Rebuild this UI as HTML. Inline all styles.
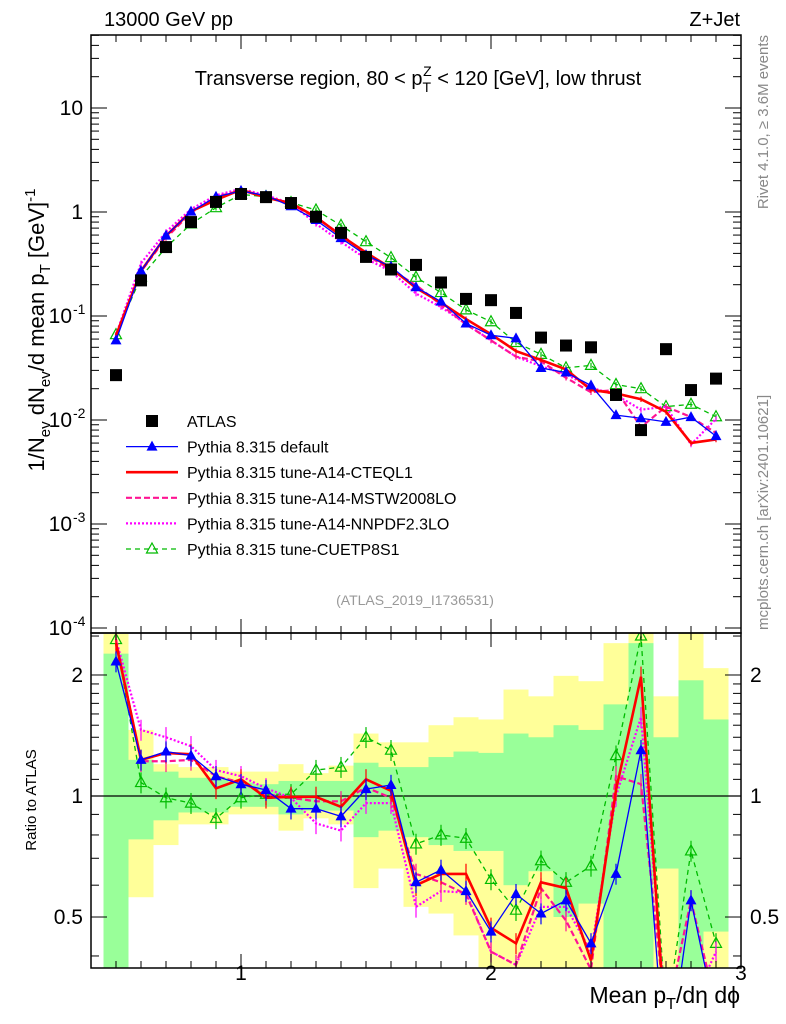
<!DOCTYPE html>
<html><head><meta charset="utf-8"><style>
body{margin:0;background:#fff;overflow:hidden;}
svg{display:block;font-family:"Liberation Sans","DejaVu Sans",sans-serif;}
</style></head><body>
<svg id="c" width="786" height="1024" viewBox="0 0 786 1024"></svg>
<script>
const categories=[0.5,0.6,0.7,0.8,0.9,1.0,1.1,1.2,1.3,1.4,1.5,1.6,1.7,1.8,1.9,2.0,2.1,2.2,2.3,2.4,2.5,2.6,2.7,2.8,2.9];
const atlasValues=[0.027,0.22,0.46,0.80,1.25,1.49,1.39,1.22,0.90,0.63,0.37,0.28,0.31,0.21,0.146,0.142,0.107,0.062,0.052,0.050,0.0174,0.0080,0.048,0.0194,0.025];
const ratioDefault=[2.16,1.23,1.29,1.26,1.12,1.07,1.035,0.93,0.93,0.89,1.04,1.065,0.61,0.655,0.58,0.46,0.57,0.51,0.55,0.43,0.64,1.30,0.2,0.55,0.28];
const ratioCTEQ=[2.4,1.23,1.28,1.27,1.045,1.10,0.99,0.995,0.995,0.94,1.10,1.03,0.60,0.64,0.64,0.47,0.43,0.61,0.59,0.39,1.035,1.98,0.25,0.31,0.26];
const ratioMSTW=[2.45,1.22,1.22,1.23,1.12,1.08,1.01,0.99,0.97,0.97,1.05,0.99,0.64,0.61,0.57,0.41,0.38,0.59,0.49,0.37,1.12,1.07,0.28,0.55,0.3];
const ratioNNPDF=[2.45,1.46,1.40,1.33,1.16,1.12,1.045,0.99,0.855,0.82,0.96,0.96,0.53,0.58,0.575,0.41,0.38,0.53,0.53,0.41,1.0,1.57,0.28,0.3,0.41];
const ratioCUETP=[2.45,1.08,0.99,0.96,0.88,0.99,1.01,1.01,1.16,1.18,1.40,1.30,0.76,0.80,0.785,0.62,0.52,0.69,0.61,0.67,1.26,2.5,0.28,0.73,0.43];
const bandInnerHi=[2.26,1.23,1.15,1.11,1.11,1.08,1.07,1.09,1.09,1.09,1.21,1.18,1.18,1.25,1.29,1.28,1.43,1.40,1.50,1.46,1.69,2.4,1.40,1.94,1.55];
const bandInnerLo=[0.2,0.78,0.87,0.91,0.91,0.94,0.94,0.90,0.92,0.92,0.79,0.82,0.79,0.755,0.73,0.73,0.60,0.65,0.50,0.54,0.2,0.2,0.66,0.2,0.46];
const bandOuterHi=[2.53,1.46,1.20,1.18,1.18,1.15,1.15,1.20,1.14,1.19,1.43,1.36,1.36,1.50,1.57,1.55,1.84,1.77,1.99,1.93,2.4,2.6,1.77,2.6,2.08];
const bandOuterLo=[0.2,0.56,0.755,0.85,0.85,0.90,0.90,0.82,0.88,0.85,0.59,0.66,0.53,0.51,0.45,0.2,0.2,0.2,0.2,0.2,0.2,0.2,0.2,0.2,0.2];
const xTicks=[1,2,3];
const mainYTicks=[["10",1],["1",0],["10",-1],["10",-2],["10",-3],["10",-4]];
const ratioTicks=[["2",2],["1",1],["0.5",0.5]];

const NS="http://www.w3.org/2000/svg";
const svg=document.getElementById('c');
const X0=91,X1=741,MT=35,MB=633,RT=633,RB=968;
const xs=v=>X0+(v-0.4)/2.6*(X1-X0);
const ym=v=>212-104*Math.log10(v);
const yr=v=>796-402*Math.log10(v);
function el(t,a,p){const e=document.createElementNS(NS,t);for(const k in a)e.setAttribute(k,a[k]);(p||svg).appendChild(e);return e;}
function txt(s,x,y,o,p){const e=el('text',Object.assign({x:x,y:y,'font-size':19,fill:'#000'},o||{}),p);e.textContent=s;return e;}

const defs=el('defs',{});
const cm=el('clipPath',{id:'cm'},defs);el('rect',{x:X0,y:MT,width:X1-X0,height:MB-MT},cm);
const cr=el('clipPath',{id:'cr'},defs);el('rect',{x:X0,y:RT,width:X1-X0,height:RB-RT},cr);

const gBand=el('g',{'clip-path':'url(#cr)'});


categories.forEach((c,i)=>{
  const a=xs(c-0.05),b=xs(c+0.05);
  const o=el('rect',{x:a,y:yr(bandOuterHi[i]),width:b-a,height:yr(bandOuterLo[i])-yr(bandOuterHi[i]),fill:'#ffff99'},gBand);
  
  
  const n=el('rect',{x:a,y:yr(bandInnerHi[i]),width:b-a,height:yr(bandInnerLo[i])-yr(bandInnerHi[i]),fill:'#99ff99'},gBand);
  
  
});
el('line',{x1:X0,x2:X1,y1:yr(1),y2:yr(1),stroke:'#000','stroke-width':1.3});

const series=[
 {name:'default',r:ratioDefault,color:'#0000ff',w:1.3,dash:'',marker:'tri'},
 {name:'cteql1',r:ratioCTEQ,color:'#ff0000',w:2.6,dash:'',marker:''},
 {name:'mstw2008lo',r:ratioMSTW,color:'#ff1493',w:2.2,dash:'6,3',marker:''},
 {name:'nnpdf23lo',r:ratioNNPDF,color:'#ff00ff',w:2.2,dash:'2,2',marker:''},
 {name:'cuetp8s1',r:ratioCUETP,color:'#00bb00',w:1.3,dash:'5,4',marker:'otri'}
];
function drawMarker(g,type,x,y,color){
  if(type==='tri'){const m=el('path',{d:`M${x},${y-6}L${x+5.5},${y+4}L${x-5.5},${y+4}Z`,fill:color},g);}
  if(type==='otri'){const m=el('path',{d:`M${x},${y-6}L${x+5.5},${y+4}L${x-5.5},${y+4}Z`,fill:'none',stroke:color,'stroke-width':1.2},g);}
}
[[ym,'cm','main'],[yr,'cr','ratio']].forEach(([yf,clip,pn])=>{
  series.slice().reverse().forEach(s=>{
    const g=el('g',{'clip-path':`url(#${clip})`});
    
    
    const vals=s.r.map((r,i)=>pn==='main'?r*atlasValues[i]:r);
    const pts=vals.map((v,i)=>xs(categories[i])+','+yf(v)).join(' ');
    const l=el('polyline',{points:pts,fill:'none',stroke:s.color,'stroke-width':s.w,'stroke-dasharray':s.dash},g);
    
    
    vals.forEach((v,i)=>{
      const x=xs(categories[i]),y=yf(v),e=0.06;
      el('line',{x1:x,x2:x,y1:yf(v*(1+e)),y2:yf(v*(1-e)),stroke:s.color,'stroke-width':1.2},g);
      drawMarker(g,s.marker,x,y,s.color);
    });
  });
});
const ga=el('g',{'clip-path':'url(#cm)'});


atlasValues.forEach((v,i)=>{
  const r=el('rect',{x:xs(categories[i])-6,y:ym(v)-6,width:12,height:12,fill:'#000'},ga);
  
  
});

el('rect',{x:X0,y:MT,width:X1-X0,height:MB-MT,fill:'none',stroke:'#000','stroke-width':1.5});
el('rect',{x:X0,y:RT,width:X1-X0,height:RB-RT,fill:'none',stroke:'#000','stroke-width':1.5});
for(let k=4;k<=30;k++){const v=k/10,x=xs(v),maj=(k%10===0);const L=maj?14:7;
  [[MT,1],[MB,-1],[RT,1],[RB,-1]].forEach(([y0,d])=>el('line',{x1:x,x2:x,y1:y0,y2:y0+d*L,stroke:'#000','stroke-width':1}));}
xTicks.forEach(v=>txt(String(v),xs(v),980,{'text-anchor':'middle','font-size':21}));
for(let d=-4;d<=1;d++){for(let m=1;m<=9;m++){const v=m*Math.pow(10,d),y=ym(v);if(y<MT||y>MB)continue;const L=m===1?16:8;
  el('line',{x1:X0,x2:X0+L,y1:y,y2:y,stroke:'#000'});el('line',{x1:X1,x2:X1-L,y1:y,y2:y,stroke:'#000'});}}
mainYTicks.forEach(([b,e])=>{const y=ym(Math.pow(10,e))+7;
  if(e===1||e===0){txt(b,83,y,{'text-anchor':'end','font-size':21});}
  else{txt(b,72,y,{'text-anchor':'end','font-size':21});txt(String(e),73,y-9,{'font-size':14});}
});
[0.4,0.5,0.6,0.7,0.8,0.9,1,1.1,1.2,1.3,1.4,1.5,1.6,1.7,1.8,1.9,2,2.5].forEach(v=>{const y=yr(v);if(y<RT||y>RB)return;const L=(v===0.5||v===1||v===2)?16:8;
  el('line',{x1:X0,x2:X0+L,y1:y,y2:y,stroke:'#000'});el('line',{x1:X1,x2:X1-L,y1:y,y2:y,stroke:'#000'});});
ratioTicks.forEach(([s,v])=>{txt(s,83,yr(v)+7,{'text-anchor':'end','font-size':21});txt(s,750,yr(v)+7,{'font-size':21});});

txt('13000 GeV pp',104,26,{'font-size':20});
txt('Z+Jet',740,26,{'font-size':20,'text-anchor':'end'});
const tt=txt('',418,85,{'font-size':20,'text-anchor':'middle'});
tt.innerHTML='Transverse region, 80 &lt; p<tspan font-size="14" dy="7">T</tspan><tspan font-size="14" dx="-8" dy="-16">Z</tspan><tspan dy="9"> &lt; 120 [GeV], low thrust</tspan>';
const yl=txt('',0,0,{'font-size':22,transform:'translate(44,330) rotate(-90)','text-anchor':'middle'});
yl.innerHTML='1/N<tspan font-size="15" dy="6">ev</tspan><tspan dy="-6"> dN</tspan><tspan font-size="15" dy="6">ev</tspan><tspan dy="-6">/d mean p</tspan><tspan font-size="15" dy="6">T</tspan><tspan dy="-6"> [GeV]</tspan><tspan font-size="15" dy="-9">-1</tspan>';
const rl=txt('Ratio to ATLAS',0,0,{'font-size':15,transform:'translate(36,800) rotate(-90)','text-anchor':'middle'});
const xl=txt('',740,1003,{'font-size':23,'text-anchor':'end'});
xl.innerHTML='Mean p<tspan font-size="16" dy="6">T</tspan><tspan dy="-6">/dη dϕ</tspan>';
txt('Rivet 4.1.0, ≥ 3.6M events',0,0,{'font-size':15,fill:'#888',transform:'translate(768,35) rotate(-90)','text-anchor':'end'});
txt('mcplots.cern.ch [arXiv:2401.10621]',0,0,{'font-size':15,fill:'#888',transform:'translate(768,630) rotate(-90)','text-anchor':'start'});
txt('(ATLAS_2019_I1736531)',415,605,{'font-size':14,fill:'#999','text-anchor':'middle'});

const lg=el('g',{});


const le=[['ATLAS',null],['Pythia 8.315 default',series[0]],['Pythia 8.315 tune-A14-CTEQL1',series[1]],['Pythia 8.315 tune-A14-MSTW2008LO',series[2]],['Pythia 8.315 tune-A14-NNPDF2.3LO',series[3]],['Pythia 8.315 tune-CUETP8S1',series[4]]];
le.forEach(([lab,s],i)=>{const y=421+i*25.6;
  const g=el('g',{},lg);
  
  
  if(!s){el('rect',{x:146,y:y-6,width:12,height:12,fill:'#000'},g);}
  else{el('line',{x1:126,x2:178,y1:y,y2:y,stroke:s.color,'stroke-width':s.w,'stroke-dasharray':s.dash},g);drawMarker(g,s.marker,152,y,s.color);}
  txt(lab,187,y+6,{'font-size':16},g);
});
</script>
</body></html>
